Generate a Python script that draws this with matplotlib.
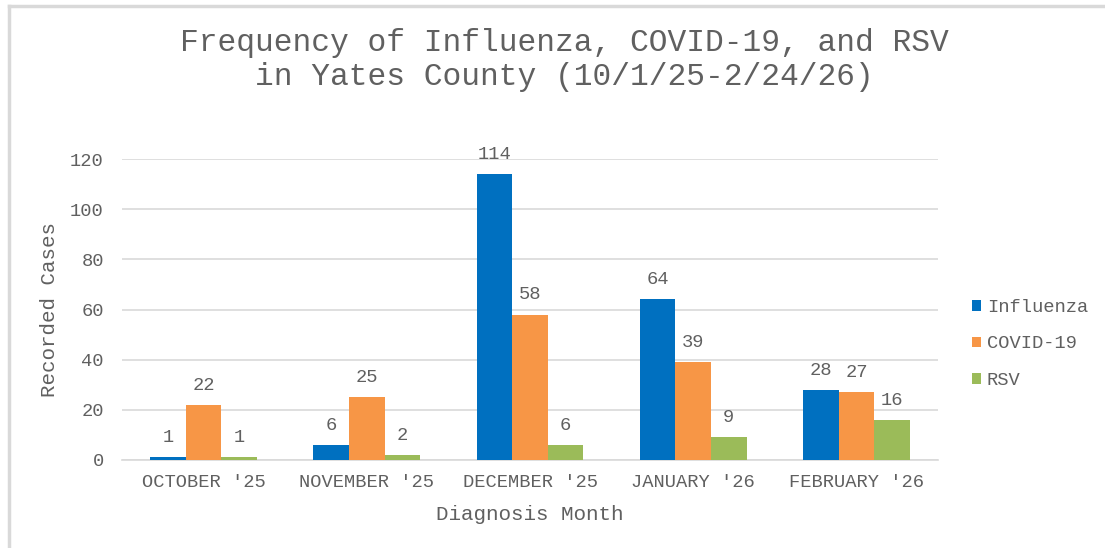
import matplotlib
matplotlib.use("Agg")
import matplotlib.pyplot as plt
import numpy as np
from matplotlib.lines import Line2D

months = ["OCTOBER '25", "NOVEMBER '25", "DECEMBER '25", "JANUARY '26", "FEBRUARY '26"]
influenza = [1, 6, 114, 64, 28]
covid = [22, 25, 58, 39, 27]
rsv = [1, 2, 6, 9, 16]
series_names = ["Influenza", "COVID-19", "RSV"]
colors = ["#0070C0", "#F79646", "#9BBB59"]
yticks = [0, 20, 40, 60, 80, 100, 120]

FONT = ["Liberation Mono", "DejaVu Sans Mono"]
TXT = "#606060"
plt.rcParams["font.family"] = FONT

fig = plt.figure(figsize=(11.05, 5.48), dpi=100)
ax = fig.add_axes([122/1105, 1-460/548, (938-122)/1105, (460-159)/548])

x = np.arange(len(months))
w = 0.218
for i, (vals, name, c) in enumerate(zip([influenza, covid, rsv], series_names, colors)):
    bars = ax.bar(x + (i-1)*w, vals, width=w, color=c, label=name, zorder=3)
    for b, v in zip(bars, vals):
        ax.annotate(str(v), (b.get_x()+b.get_width()/2, v), xytext=(0, 8),
                    textcoords="offset points", ha="center", va="bottom",
                    fontsize=13.5, color=TXT)

ax.set_xlim(-0.5, len(months)-0.5)
ax.set_ylim(0, 120)
ax.set_yticks(yticks)
ax.set_xticks(x)
ax.set_xticklabels(months)
ax.tick_params(axis="both", length=0, labelsize=13.5, labelcolor=TXT)
ax.tick_params(axis="y", pad=13)
ax.tick_params(axis="x", pad=10)
ax.grid(axis="y", color="#D9D9D9", linewidth=1.2, zorder=0)
for s in ["top", "right", "left"]:
    ax.spines[s].set_visible(False)
ax.spines["bottom"].set_color("#D9D9D9")
ax.spines["bottom"].set_linewidth(1.2)

ax.set_xlabel("Diagnosis Month", fontsize=15, color=TXT, labelpad=10)
ax.set_ylabel("Recorded Cases", fontsize=15, color=TXT, labelpad=8)

fig.text(564/1105, 1-60/548, "Frequency of Influenza, COVID-19, and RSV\nin Yates County (10/1/25-2/24/26)",
         ha="center", va="center", fontsize=22.5, color=TXT, linespacing=1.2)

leg = ax.legend(loc="center left", bbox_to_anchor=(955/1105, 1-344/548),
                bbox_transform=fig.transFigure, frameon=False, fontsize=13.5,
                labelcolor=TXT, handlelength=0.5, handleheight=0.5,
                handletextpad=0.3, labelspacing=1.05)

# outer chart border (top and left visible)
fig.add_artist(Line2D([9/1105, 9/1105], [0, 1-6/548], color="#D9D9D9", linewidth=2.5,
                      transform=fig.transFigure))
fig.add_artist(Line2D([9/1105, 1], [1-6/548, 1-6/548], color="#D9D9D9", linewidth=2.5,
                      transform=fig.transFigure))

fig.savefig("out.png", dpi=100, facecolor="white")
